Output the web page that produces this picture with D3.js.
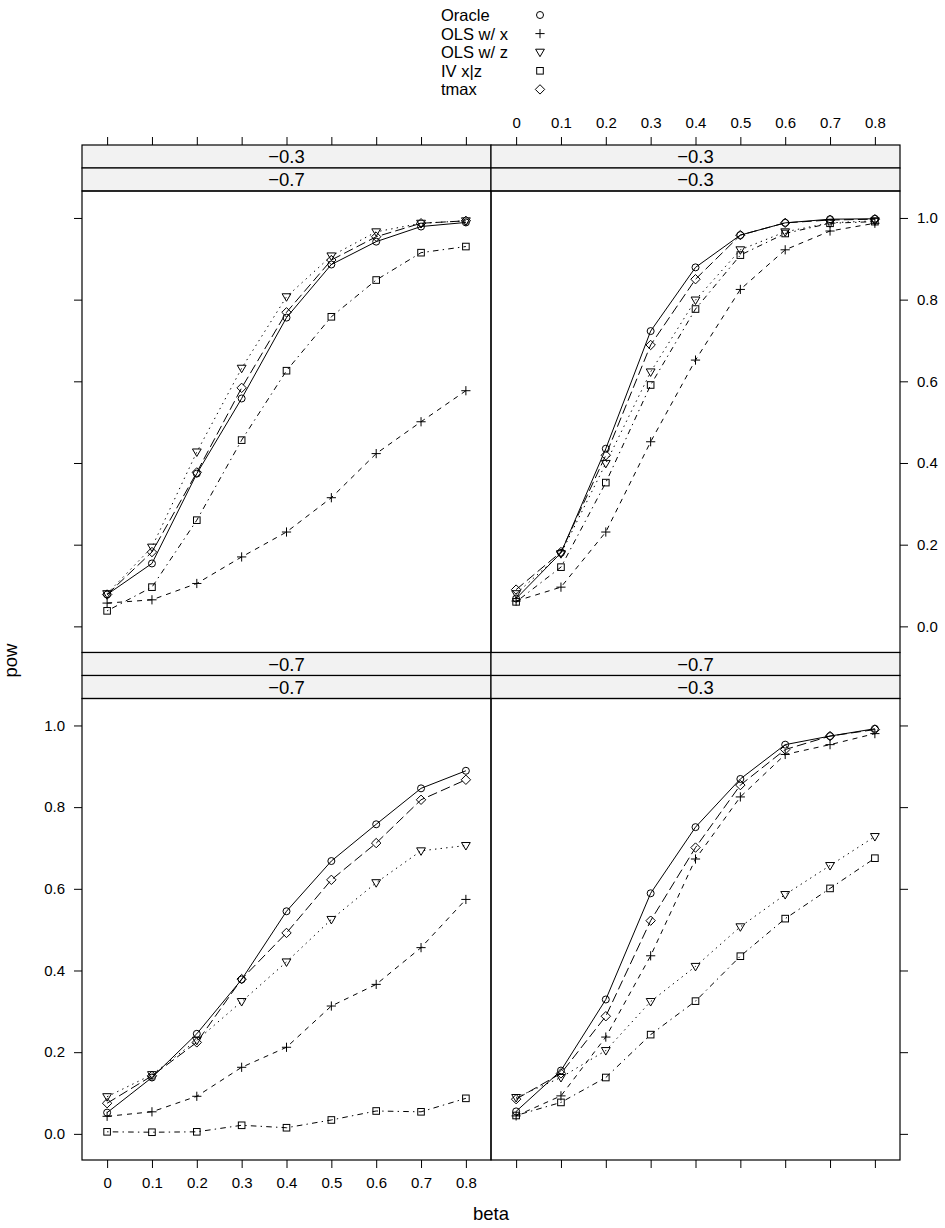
<!DOCTYPE html>
<html>
<head>
<meta charset="utf-8">
<script src="https://cdn.jsdelivr.net/npm/d3@7"></script>
<style>
  html,body{margin:0;padding:0;background:#fff;}
  svg text{font-family:"Liberation Sans",Arial,Helvetica,sans-serif;fill:#000;}
</style>
</head>
<body>
<div id="chart"></div>
<script>
/* lattice-style 2x2 power curves, drawn with d3 */

/* ---------- DATA ---------- */
const BETA=[0,0.1,0.2,0.3,0.4,0.5,0.6,0.7,0.8];
const SERIES=["Oracle","OLS w/ x","OLS w/ z","IV x|z","tmax"];
const Y_TICKS=[0,0.2,0.4,0.6,0.8,1.0];

/* strip labels per panel: [top strip, bottom strip] */
const STRIP_TL=["\u22120.3","\u22120.7"];
const STRIP_TR=["\u22120.3","\u22120.3"];
const STRIP_BL=["\u22120.7","\u22120.7"];
const STRIP_BR=["\u22120.7","\u22120.3"];

/* values per panel, rows in SERIES order */
const POW_TL=[
  [0.078,0.154,0.374,0.558,0.756,0.886,0.942,0.979,0.989],
  [0.057,0.065,0.105,0.170,0.231,0.315,0.423,0.501,0.577],
  [0.080,0.194,0.427,0.632,0.807,0.907,0.966,0.987,0.993],
  [0.038,0.096,0.260,0.456,0.626,0.758,0.848,0.915,0.930],
  [0.078,0.182,0.377,0.584,0.769,0.897,0.954,0.987,0.993]
];
const POW_TR=[
  [0.068,0.180,0.435,0.723,0.879,0.958,0.988,0.997,0.998],
  [0.062,0.096,0.231,0.452,0.652,0.825,0.922,0.968,0.987],
  [0.080,0.178,0.399,0.623,0.799,0.922,0.966,0.988,0.993],
  [0.060,0.145,0.352,0.591,0.777,0.909,0.962,0.987,0.991],
  [0.090,0.182,0.419,0.689,0.850,0.958,0.988,0.995,0.997]
];
const POW_BL=[
  [0.052,0.138,0.245,0.378,0.545,0.668,0.758,0.846,0.889],
  [0.043,0.054,0.092,0.163,0.212,0.313,0.366,0.456,0.574],
  [0.091,0.145,0.229,0.324,0.421,0.525,0.615,0.693,0.706],
  [0.005,0.004,0.005,0.021,0.015,0.034,0.056,0.054,0.087],
  [0.075,0.142,0.224,0.379,0.492,0.622,0.712,0.818,0.867]
];
const POW_BR=[
  [0.055,0.155,0.329,0.589,0.751,0.869,0.953,0.974,0.992],
  [0.044,0.093,0.237,0.436,0.673,0.825,0.929,0.953,0.980],
  [0.089,0.138,0.204,0.324,0.410,0.507,0.586,0.657,0.728],
  [0.045,0.077,0.138,0.243,0.325,0.435,0.527,0.601,0.675],
  [0.085,0.148,0.288,0.522,0.701,0.854,0.941,0.974,0.990]
];

/* ---------- STYLE ---------- */
const W=945,H=1228;
const LEFT=82,PW=409,TOP=145,STRIP_H=23,BODY_H=461.5;
const DASH=[null,"5,5","1.4,4.2","1.4,4.2,5.6,4.2","9.8,4.2"];
const STRIP_BG="#f2f2f2";
const TICK_FS=15, BIG_FS=18.5, LEG_FS=16.5;

const svg=d3.select("#chart").append("svg").attr("width",W).attr("height",H);

const x=d3.scaleLinear().domain([-0.056,0.856]).range([0,PW]);
const y=d3.scaleLinear().domain([-0.064,1.066]).range([BODY_H,0]);

/* symbol drawing (R pch 1,3,6,0,5) */
function symbol(g,k,cx,cy){
  const s=g.append("g").attr("transform",`translate(${cx},${cy})`)
    .attr("fill","none").attr("stroke","#000").attr("stroke-width",1);
  if(k===0) s.append("circle").attr("r",3.5);
  else if(k===1){
    s.append("line").attr("x1",-4.6).attr("x2",4.6);
    s.append("line").attr("y1",-4.6).attr("y2",4.6);
  }
  else if(k===2) s.append("path").attr("d","M-4.4,-3L4.4,-3L0,4.5Z");
  else if(k===3) s.append("rect").attr("x",-3.3).attr("y",-3.3).attr("width",6.6).attr("height",6.6);
  else s.append("path").attr("d","M0,-4.7L4.7,0L0,4.7L-4.7,0Z");
}

const fmtX=d=>d===0?"0":d3.format(".1f")(d);
const fmtY=d3.format(".1f");

function panel(col,row,vals,strips,ax){
  const px=LEFT+col*PW;
  const top=TOP+row*(2*STRIP_H+BODY_H);
  const g=svg.append("g").attr("transform",`translate(${px},${top})`);

  /* strips */
  strips.forEach((s,i)=>{
    g.append("rect").attr("x",0).attr("y",i*STRIP_H).attr("width",PW).attr("height",STRIP_H)
      .attr("fill",STRIP_BG).attr("stroke","#000").attr("stroke-width",1.2);
    g.append("text").attr("x",PW/2).attr("y",i*STRIP_H+STRIP_H/2)
      .attr("dy","0.36em").attr("text-anchor","middle").style("font-size",BIG_FS+"px").text(s);
  });

  const body=g.append("g").attr("transform",`translate(0,${2*STRIP_H})`);

  /* lines */
  const line=d3.line().x((d,i)=>x(BETA[i])).y(d=>y(d));
  vals.forEach((v,k)=>{
    body.append("path").attr("d",line(v)).attr("fill","none")
      .attr("stroke","#000").attr("stroke-width",1)
      .attr("stroke-dasharray",DASH[k]);
  });
  vals.forEach((v,k)=>v.forEach((d,i)=>symbol(body,k,x(BETA[i]),y(d))));

  body.append("rect").attr("width",PW).attr("height",BODY_H)
    .attr("fill","none").attr("stroke","#000").attr("stroke-width",1.2);

  /* axes */
  const style=a=>{a.select(".domain").remove();
    a.selectAll("line").attr("stroke","#000");
    a.selectAll("text").style("font-size",TICK_FS+"px").style("font-family","Liberation Sans, Arial, sans-serif");};
  if(ax.left!==undefined){
    body.append("g").call(d3.axisLeft(y).tickValues(Y_TICKS).tickSize(8).tickPadding(9)
      .tickFormat(ax.left?fmtY:"")).call(style);
  }
  if(ax.right!==undefined){
    body.append("g").attr("transform",`translate(${PW},0)`)
      .call(d3.axisRight(y).tickValues(Y_TICKS).tickSize(8).tickPadding(9)
      .tickFormat(ax.right?fmtY:"")).call(style);
  }
  if(ax.bottom!==undefined){
    body.append("g").attr("transform",`translate(0,${BODY_H})`)
      .call(d3.axisBottom(x).tickValues(BETA).tickSize(8).tickPadding(9)
      .tickFormat(ax.bottom?fmtX:"")).call(style);
  }
  if(ax.top!==undefined){
    g.append("g").call(d3.axisTop(x).tickValues(BETA).tickSize(8).tickPadding(9)
      .tickFormat(ax.top?fmtX:"")).call(style);
  }
}

panel(0,0,POW_TL,STRIP_TL,{left:false,top:false});
panel(1,0,POW_TR,STRIP_TR,{right:true,top:true});
panel(0,1,POW_BL,STRIP_BL,{left:true,bottom:true});
panel(1,1,POW_BR,STRIP_BR,{right:false,bottom:false});

/* legend */
const lg=svg.append("g").attr("transform","translate(441,0)");
SERIES.forEach((s,k)=>{
  const cy=15+k*18.6;
  lg.append("text").attr("x",0).attr("y",cy).attr("dy","0.36em")
    .style("font-size",LEG_FS+"px").text(s);
  symbol(lg,k,99,cy);
});

/* axis titles */
svg.append("text").attr("transform",`translate(17,${TOP+STRIP_H*2+BODY_H+8}) rotate(-90)`)
  .attr("text-anchor","middle").style("font-size",BIG_FS+"px").text("pow");
svg.append("text").attr("x",LEFT+PW).attr("y",1220).attr("text-anchor","middle")
  .style("font-size",BIG_FS+"px").text("beta");
</script>
</body>
</html>
